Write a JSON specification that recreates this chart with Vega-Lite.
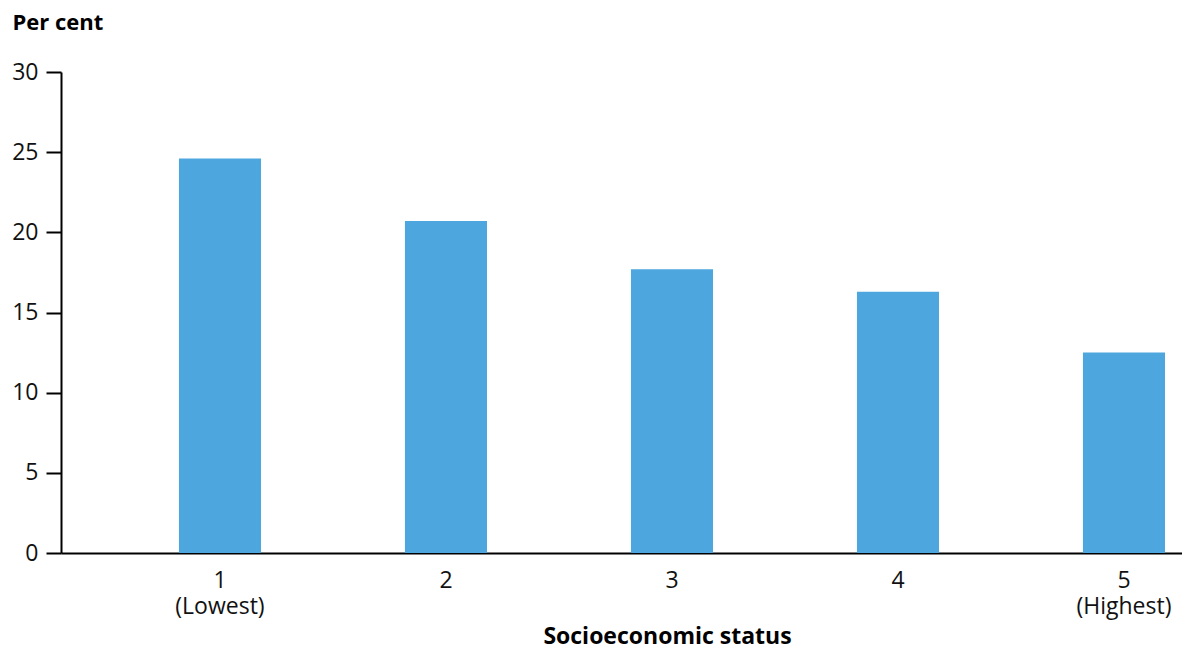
{
  "$schema": "https://vega.github.io/schema/vega-lite/v6.json",
  "width": 1121,
  "height": 481,
  "autosize": "none",
  "padding": {"left": 61, "top": 72, "right": 0, "bottom": 95},
  "background": "white",
  "config": {
    "view": {"stroke": null},
    "font": "Open Sans",
    "axis": {"grid": false, "domainColor": "#000000", "domainWidth": 2, "tickColor": "#000000", "tickWidth": 2, "labelColor": "#111111", "titleColor": "#000000"}
  },
  "data": {
    "values": [
      {"ses": "1\n(Lowest)", "pct": 24.6},
      {"ses": "2", "pct": 20.7},
      {"ses": "3", "pct": 17.7},
      {"ses": "4", "pct": 16.3},
      {"ses": "5\n(Highest)", "pct": 12.5}
    ]
  },
  "mark": {"type": "bar", "color": "#4DA6DD"},
  "encoding": {
    "x": {
      "field": "ses",
      "type": "nominal",
      "sort": null,
      "scale": {"paddingInner": 0.637, "paddingOuter": 0.2986, "align": 0.874},
      "axis": {
        "labelAngle": 0,
        "ticks": false,
        "labelPadding": 16,
        "labelFontSize": 23,
        "labelLineHeight": 26,
        "labelExpr": "split(datum.label, '\\n')",
        "title": "Socioeconomic status",
        "titleFontSize": 23,
        "titleFontWeight": "bold",
        "titleX": 606,
        "titleY": 83,
        "titleBaseline": "middle",
        "titleAlign": "center"
      }
    },
    "y": {
      "field": "pct",
      "type": "quantitative",
      "scale": {"domain": [0, 30]},
      "axis": {
        "values": [0, 5, 10, 15, 20, 25, 30],
        "tickSize": 15,
        "labelPadding": 8,
        "labelFontSize": 23,
        "title": "Per cent",
        "titleFontSize": 22,
        "titleFontWeight": "bold",
        "titleAngle": 0,
        "titleAlign": "left",
        "titleBaseline": "middle",
        "titleX": -49,
        "titleY": -50
      }
    }
  }
}
